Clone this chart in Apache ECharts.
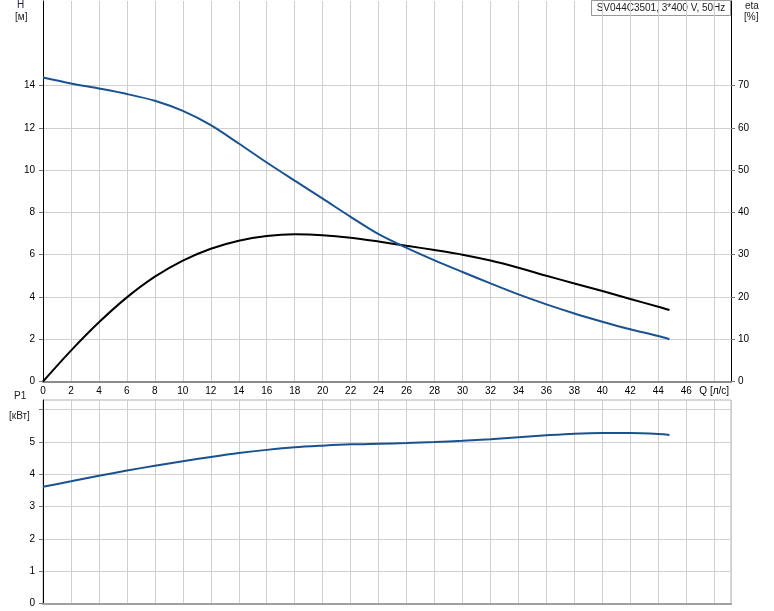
<!DOCTYPE html>
<html>
<head>
<meta charset="utf-8">
<script src="https://cdn.jsdelivr.net/npm/echarts@6/dist/echarts.min.js"></script>
<style>
html,body{margin:0;padding:0;background:#fff;}
#main{width:774px;height:611px;}
</style>
</head>
<body>
<div id="main"></div>
<script>
// ---- data ----
var title = 'SV044C3501, 3*400 V, 50Hz';
var qValues = [0, 2, 4, 6, 8, 10, 12, 14, 16, 18, 20, 22, 24, 26, 28, 30, 32, 34, 36, 38, 40, 42, 44, 44.8];
var headH = [14.38, 14.1, 13.86, 13.6, 13.28, 12.8, 12.13, 11.26, 10.36, 9.5, 8.65, 7.79, 6.97, 6.32, 5.73, 5.18, 4.64, 4.12, 3.65, 3.22, 2.83, 2.47, 2.15, 2.0];
var etaPct = [0, 7.3, 14.0, 19.9, 24.8, 28.6, 31.4, 33.3, 34.4, 34.8, 34.6, 34.0, 33.1, 32.1, 31.1, 30.0, 28.6, 26.9, 25.0, 23.2, 21.4, 19.5, 17.7, 16.9];
var powerP1 = [3.61, 3.78, 3.95, 4.11, 4.26, 4.40, 4.53, 4.65, 4.75, 4.83, 4.88, 4.92, 4.94, 4.96, 4.99, 5.03, 5.08, 5.14, 5.20, 5.25, 5.27, 5.27, 5.24, 5.21];
var qTicks = [0, 2, 4, 6, 8, 10, 12, 14, 16, 18, 20, 22, 24, 26, 28, 30, 32, 34, 36, 38, 40, 42, 44, 46, 48];
var qAxisName = 'Q [л/с]';
var hTicks = [0, 2, 4, 6, 8, 10, 12, 14];
var etaTicks = [0, 10, 20, 30, 40, 50, 60, 70];
var p1LabelTicks = [0, 1, 2, 3, 4, 5];
var p1Ticks = [0, 1, 2, 3, 4, 5, 6];

function pairs(xs, ys) { return xs.map(function (x, i) { return [x, ys[i]]; }); }

var FONT = 'Liberation Sans, Arial, sans-serif';
var gridColor = '#cfcfcf';
var blue = '#1a5291';

var chart = echarts.init(document.getElementById('main'), null, {renderer: 'canvas'});
var option = {
  animation: false,
  backgroundColor: '#fff',
  textStyle: {fontFamily: FONT},
  grid: [
    {left: 43, right: 43, top: 1, bottom: 229.5},
    {left: 43, right: 43, top: 400, bottom: 7.3, show: true, borderColor: '#b0b0b0', borderWidth: 1}
  ],
  xAxis: [
    {
      type: 'value', gridIndex: 0, min: 0, max: 49.2, interval: 2,
      axisLine: {show: true, onZero: false, lineStyle: {color: '#8c8c8c', width: 2}},
      axisTick: {show: false},
      splitLine: {show: true, lineStyle: {color: gridColor, width: 1}},
      axisLabel: {
        color: '#000', fontSize: 10, fontFamily: FONT, margin: 5,
        customValues: qTicks,
        formatter: function (v) {
          return v === qTicks[qTicks.length - 1] ? qAxisName : String(v);
        }
      }
    },
    {
      type: 'value', gridIndex: 1, min: 0, max: 49.2, interval: 2,
      axisLine: {show: true, onZero: false, lineStyle: {color: '#a0a0a0', width: 2}},
      axisTick: {show: false},
      axisLabel: {show: false},
      splitLine: {show: true, lineStyle: {color: gridColor, width: 1}}
    }
  ],
  yAxis: [
    {
      type: 'value', gridIndex: 0, min: 0, max: 18, interval: 2, position: 'left',
      axisLine: {show: true, lineStyle: {color: '#000', width: 1}},
      axisTick: {show: true, length: 4, customValues: hTicks, lineStyle: {color: '#777'}},
      splitLine: {show: true, lineStyle: {color: gridColor, width: 1}},
      axisLabel: {color: '#000', fontSize: 10, fontFamily: FONT, margin: 8, customValues: hTicks}
    },
    {
      type: 'value', gridIndex: 0, min: 0, max: 90, interval: 10, position: 'right',
      axisLine: {show: true, lineStyle: {color: '#000', width: 1}},
      axisTick: {show: true, length: 4, customValues: etaTicks, lineStyle: {color: '#777'}},
      splitLine: {show: false},
      axisLabel: {color: '#000', fontSize: 10, fontFamily: FONT, margin: 7, customValues: etaTicks}
    },
    {
      type: 'value', gridIndex: 1, min: 0, max: 6.29, interval: 1, position: 'left',
      axisLine: {show: true, lineStyle: {color: '#000', width: 1}},
      axisTick: {show: true, length: 4, customValues: p1Ticks, lineStyle: {color: '#777'}},
      splitLine: {show: true, lineStyle: {color: gridColor, width: 1}},
      axisLabel: {color: '#000', fontSize: 10, fontFamily: FONT, margin: 8, customValues: p1LabelTicks}
    }
  ],
  series: [
    {
      name: 'H', type: 'line', xAxisIndex: 0, yAxisIndex: 0, smooth: 0.3, showSymbol: false,
      data: pairs(qValues, headH), lineStyle: {color: blue, width: 2}, z: 5
    },
    {
      name: 'eta', type: 'line', xAxisIndex: 0, yAxisIndex: 1, smooth: 0.3, showSymbol: false,
      data: pairs(qValues, etaPct), lineStyle: {color: '#000', width: 2}, z: 4
    },
    {
      name: 'P1', type: 'line', xAxisIndex: 1, yAxisIndex: 2, smooth: 0.3, showSymbol: false,
      data: pairs(qValues, powerP1), lineStyle: {color: blue, width: 2}, z: 5
    }
  ],
  graphic: [
    {type: 'text', left: 17, top: 0, style: {text: 'H', fill: '#1a1a4a', font: '10px ' + FONT}},
    {type: 'text', left: 15, top: 12, style: {text: '[м]', fill: '#222', font: '10px ' + FONT}},
    {type: 'text', left: 745, top: 1, style: {text: 'eta', fill: '#222', font: '10px ' + FONT}},
    {type: 'text', left: 744, top: 12, style: {text: '[%]', fill: '#222', font: '10px ' + FONT}},
    {type: 'text', left: 14, top: 391, style: {text: 'P1', fill: '#222', font: '10px ' + FONT}},
    {type: 'text', left: 9, top: 411, style: {text: '[кВт]', fill: '#222', font: '10px ' + FONT}},
    {
      type: 'group', left: 591, top: 0, z: 100,
      children: [
        {type: 'rect', shape: {x: 0, y: 0, width: 139, height: 15}, style: {fill: '#fff', stroke: '#999', lineWidth: 1}},
        {type: 'text', x: 69.5, y: 7.5, style: {text: title, fill: '#222', font: '10px ' + FONT, textAlign: 'center', textVerticalAlign: 'middle'}}
      ]
    }
  ]
};
chart.setOption(option);
</script>
</body>
</html>
